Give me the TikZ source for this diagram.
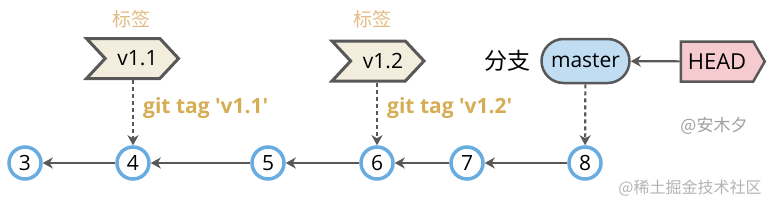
\documentclass[tikz,border=0pt]{standalone}
\usepackage{fontspec}
\setmainfont{Open Sans}[Ligatures=TeXOff]
\newfontfamily\cjk{Noto Sans CJK SC}
\usetikzlibrary{arrows.meta,shapes.symbols,shapes.misc}
\definecolor{circblue}{RGB}{104,172,224}
\definecolor{tagfill}{RGB}{243,237,222}
\definecolor{edgegray}{RGB}{88,88,88}
\definecolor{gold}{RGB}{214,172,84}
\definecolor{lightgold}{RGB}{226,188,130}
\definecolor{masterfill}{RGB}{192,221,242}
\definecolor{headfill}{RGB}{246,203,208}
\definecolor{wmgray}{RGB}{160,160,160}
\tikzset{
  commit/.style={circle, draw=circblue, line width=3.5pt, fill=white, minimum size=32pt, inner sep=0pt, font=\fontsize{21}{21}\selectfont},
  link/.style={draw=edgegray, line width=2.2pt, -{Stealth[length=10pt,width=11pt,inset=3pt]}},
  dlink/.style={draw=edgegray, line width=2.2pt, dash pattern=on 4pt off 3pt, -{Stealth[length=10pt,width=11pt,inset=3pt]}},
  tagbox/.style={signal, signal to=east, signal from=west, signal pointer angle=94, draw=edgegray, line width=3pt, fill=tagfill, minimum width=92pt, minimum height=40pt, inner sep=0pt, font=\fontsize{21}{21}\selectfont},
  headbox/.style={signal, signal to=east, signal pointer angle=120, draw=edgegray, line width=2.5pt, fill=headfill, minimum width=84pt, minimum height=40pt, inner sep=0pt, font=\fontsize{22}{22}\selectfont},
  branchbox/.style={rounded rectangle, draw=edgegray, line width=2.5pt, fill=masterfill, minimum width=88pt, minimum height=44pt, inner sep=0pt, font=\fontsize{21}{21}\selectfont},
  cmd/.style={anchor=west, text=gold, font=\fontsize{21}{21}\selectfont\bfseries, inner sep=0pt},
  tagtitle/.style={text=lightgold, font=\cjk\fontsize{19}{19}\selectfont, inner sep=0pt},
  wm/.style={text=wmgray, font=\cjk\fontsize{17}{17}\selectfont, inner sep=0pt}
}
\begin{document}
\begin{tikzpicture}[x=1pt,y=-1pt]
\useasboundingbox (0,0) rectangle (773,210);
% commits
\node[commit] (c3) at (25,163) {3};
\node[commit] (c4) at (133,163) {4};
\node[commit] (c5) at (268,163) {5};
\node[commit] (c6) at (377,163) {6};
\node[commit] (c7) at (467,163) {7};
\node[commit] (c8) at (585,163) {8};
\draw[link] (c4) -- (c3);
\draw[link] (c5) -- (c4);
\draw[link] (c6) -- (c5);
\draw[link] (c7) -- (c6);
\draw[link] (c8) -- (c7);
% tags
\node[tagbox] (t1) at (132.5,58.5) {\hspace{10pt}v1.1};
\node[tagbox] (t2) at (378,61) {\hspace{10pt}v1.2};
\node[tagtitle] (l1) at (131,19) {标签};
\node[tagtitle] (l2) at (372,19) {标签};
\draw[dlink] (t1.south -| c4) -- (c4);
\draw[dlink] (t2.south -| c6) -- (c6);
\node[cmd] (g1) at (143,108) {git tag 'v1.1'};
\node[cmd] (g2) at (387,108) {git tag 'v1.2'};
% branch
\node[branchbox] (m) at (585.5,61) {master};
\node[inner sep=0pt, font=\cjk\fontsize{23}{23}\selectfont] (bl) at (507,61) {分支};
\node[headbox] (h) at (717,61.5) {HEAD\hspace{6pt}};
\draw[link] (h) -- (m);
\draw[dlink] (m) -- (c8);
% watermarks
\node[wm] (w1) at (714,126) {@安木夕};
\node[wm, text=wmgray!80, font=\cjk\fontsize{16}{16}\selectfont] (w2) at (690,188) {@稀土掘金技术社区};
\end{tikzpicture}
\end{document}
